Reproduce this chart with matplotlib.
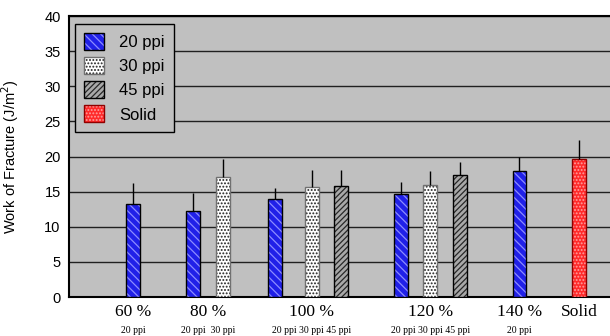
import numpy as np
import matplotlib
matplotlib.use('Agg')
import matplotlib.pyplot as plt
import matplotlib.transforms as mtransforms
from matplotlib.patches import Patch

# Data (Work of Fracture, J/m^2)
groups = ['60 %', '80 %', '100 %', '120 %', '140 %', 'Solid']
group_sublabels = ['20 ppi', '20 ppi  30 ppi', '20 ppi 30 ppi 45 ppi',
                   '20 ppi 30 ppi 45 ppi', '20 ppi', '']

wof_20ppi = [13.3, 12.2, 13.9, 14.65, 17.9]      # 60, 80, 100, 120, 140 %
err_20ppi = [2.9, 2.55, 1.6, 1.75, 2.05]
wof_30ppi = [17.1, 15.6, 16.0]                   # 80, 100, 120 %
err_30ppi = [2.6, 2.5, 2.0]
wof_45ppi = [15.75, 17.35]                       # 100, 120 %
err_45ppi = [2.35, 1.9]
wof_solid = [19.7]
err_solid = [2.7]

# Layout: bar slots along the x axis
pos_20ppi = [2, 4, 6.77, 11, 15]
pos_30ppi = [5, 8, 12]
pos_45ppi = [9, 13]
pos_solid = [17]
group_centers = [2, 4.5, 8, 12, 15, 17]
width = 0.47

plt.rcParams['font.family'] = ['Liberation Sans', 'DejaVu Sans']
plt.rcParams['hatch.linewidth'] = 0.9

fig = plt.figure(figsize=(6.1, 3.36), dpi=100)
ax = fig.add_axes([0.1131, 0.116, 0.887, 0.836])
ax.set_facecolor('#c0c0c0')

# (face, hatch colour, hatch, outline)
styles = {
    '20 ppi': ('#2020e8', '#8c8cff', '\\\\\\\\', 'black'),
    '30 ppi': ('white', '#202020', '.....', '#707070'),
    '45 ppi': ('#a8a8a8', '#282828', '//////', 'black'),
    'Solid': ('#ff2a2a', '#ffa0a0', '.....', '#900000'),
}
series = [
    ('20 ppi', pos_20ppi, wof_20ppi, err_20ppi),
    ('30 ppi', pos_30ppi, wof_30ppi, err_30ppi),
    ('45 ppi', pos_45ppi, wof_45ppi, err_45ppi),
    ('Solid', pos_solid, wof_solid, err_solid),
]

handles = []
for name, pos, vals, err in series:
    face, hcol, hatch, edge = styles[name]
    ax.bar(pos, vals, width, color=face, edgecolor=hcol, hatch=hatch,
           linewidth=0, zorder=3)
    ax.bar(pos, vals, width, fill=False, edgecolor=edge, linewidth=1, zorder=4)
    ax.errorbar(pos, vals, yerr=[np.zeros(len(err)), err], fmt='none',
                ecolor='black', elinewidth=1, capsize=0, zorder=5)
    handles.append((Patch(facecolor=face, edgecolor=hcol, hatch=hatch, linewidth=0),
                    Patch(fill=False, edgecolor=edge, linewidth=1)))

ax.set_ylim(0, 40)
ax.set_yticks(np.arange(0, 41, 5))
ax.set_xlim(-0.17, 18.05)
ax.set_xticks([])
ax.yaxis.grid(True, color='#202020', linewidth=1)
ax.set_axisbelow(True)
ax.tick_params(axis='y', length=0, pad=6, labelsize=10.5)
for s in ['left', 'bottom', 'top']:
    ax.spines[s].set_linewidth(1.5)
    ax.spines[s].set_color('black')
ax.spines['right'].set_visible(False)

ax.set_ylabel('Work of Fracture (J/m$^2$)', fontsize=10.5)
ax.yaxis.set_label_coords(-0.088, 0.5)

# Category labels under the axis
trans = mtransforms.blended_transform_factory(ax.transData, ax.transAxes)
for x, g, sub in zip(group_centers, groups, group_sublabels):
    ax.text(x, -0.055, g, transform=trans, ha='center', va='center',
            fontsize=12.5, family='Liberation Serif')
    ax.text(x, -0.12, sub, transform=trans, ha='center', va='center',
            fontsize=7, family='Liberation Serif')

leg = ax.legend(handles, ['20 ppi', '30 ppi', '45 ppi', 'Solid'],
                loc='upper left', bbox_to_anchor=(0.0105, 0.973),
                borderaxespad=0, fontsize=12, fancybox=False,
                facecolor='#c0c0c0', edgecolor='black', framealpha=1,
                handlelength=1.2, handleheight=1.2, labelspacing=0.42,
                borderpad=0.55, handletextpad=0.9)
leg.get_frame().set_linewidth(1)

plt.savefig('out.png', dpi=100)
